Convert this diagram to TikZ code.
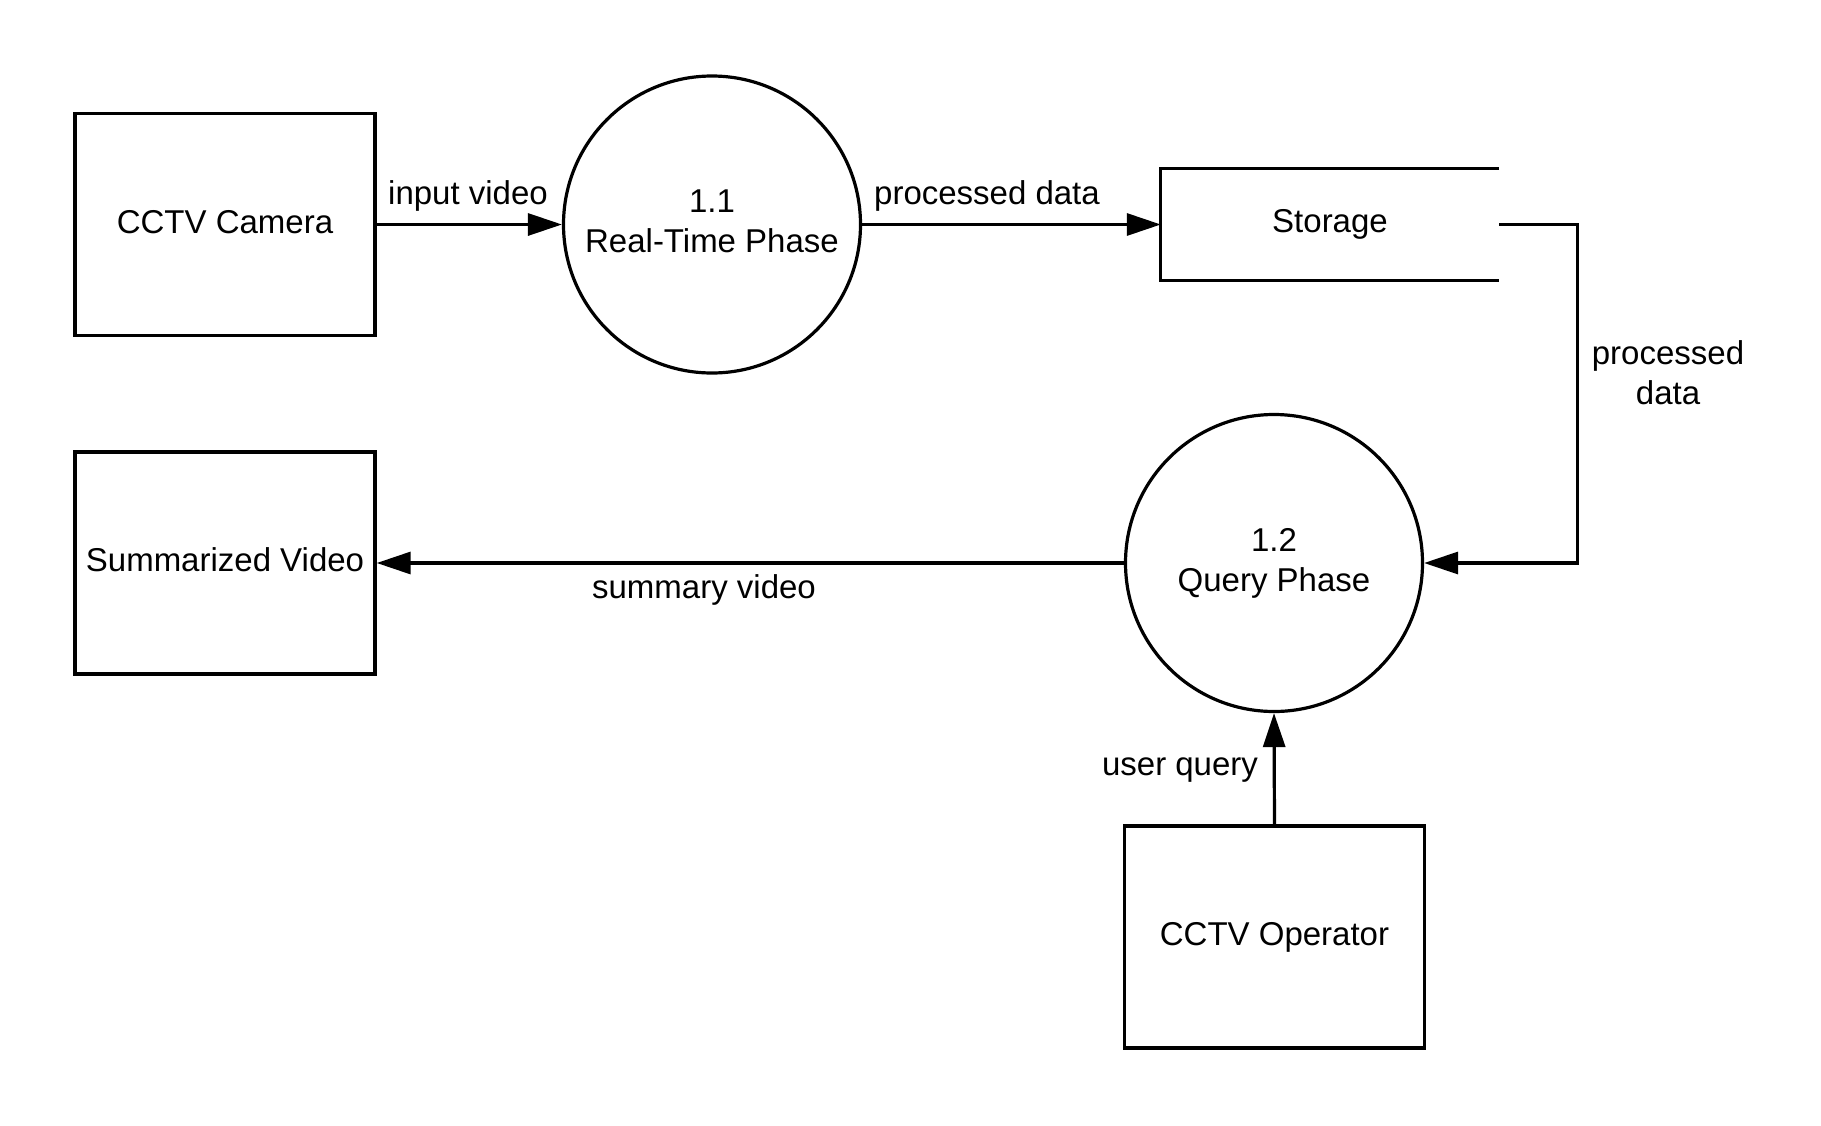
\documentclass[tikz,border=0pt]{standalone}
\usepackage{fontspec}
\setmainfont{Liberation Sans}
\usetikzlibrary{arrows.meta}
\begin{document}
\begin{tikzpicture}[x=1pt,y=-1pt,
  every node/.style={font=\fontsize{33}{40}\selectfont},
  entity/.style={draw, line width=3.4pt, minimum width=300pt, minimum height=222pt, inner sep=0pt, text height=24pt, text depth=7pt},
  proc/.style={draw, circle, line width=3.2pt, minimum size=297pt, align=center, inner sep=0pt, text depth=7pt},
  flow/.style={line width=3.2pt, -{Triangle[length=34pt,width=22pt]}},
  lbl/.style={inner sep=0pt, align=center}
]
\useasboundingbox (0,0) rectangle (1821,1125);
\fill[white] (0,0) rectangle (1821,1125);

\node[entity] (cam) at (225,224.5) {CCTV Camera};
\node[proc] (p1) at (712,224.5) {1.1\\Real-Time Phase};
\node[minimum width=338pt, minimum height=111pt, inner sep=0pt] (st) at (1330,224.5) {Storage};
\node[entity] (sv) at (225,563) {Summarized Video};
\node[proc] (p2) at (1274,563) {1.2\\Query Phase};
\node[entity] (op) at (1274.5,937) {CCTV Operator};

\draw[line width=3.2pt] (st.north east) -- (st.north west) -- (st.south west) -- (st.south east);

\draw[flow] (cam.east) -- (p1.west);
\draw[flow] (p1.east) -- (st.west);
\draw[flow] (st.east) -- ++(78,0) |- (p2.east);
\draw[flow] (p2.west) -- (sv.east);
\draw[flow] (op.north) -- (p2.south);

\node[lbl] (l1) at (468,195.5) {input video};
\node[lbl] (l2) at (987,195.5) {processed data};
\node[lbl] (l3) at (1668,373) {processed\\data};
\node[lbl] (l4) at (704,590) {summary video};
\node[lbl] (l5) at (1180,770) {user query};
\end{tikzpicture}
\end{document}
